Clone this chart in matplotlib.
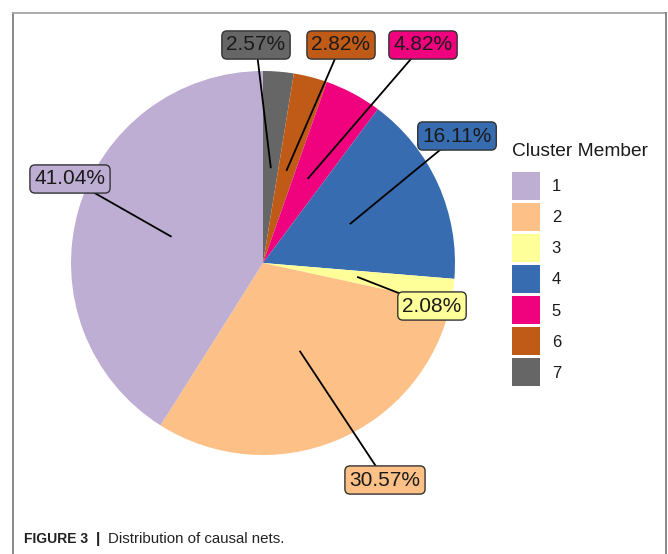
import matplotlib
matplotlib.use("Agg")
import matplotlib.pyplot as plt
import numpy as np
from matplotlib.patches import Patch
from matplotlib.lines import Line2D

plt.rcParams['font.family'] = ['Liberation Sans', 'DejaVu Sans']

# Data
clusters = ["1", "2", "3", "4", "5", "6", "7"]
shares = [41.04, 30.57, 2.08, 16.11, 4.82, 2.82, 2.57]
labels = ["41.04%", "30.57%", "2.08%", "16.11%", "4.82%", "2.82%", "2.57%"]
colors = ["#BEAED4", "#FDC086", "#FFFF99", "#386CB0", "#F0027F", "#BF5B17", "#666666"]

W, H = 668, 554
fig = plt.figure(figsize=(W / 100, H / 100), dpi=100)
ax = fig.add_axes([0, 0, 1, 1])

cx, cy, R = 263, 554 - 263, 192

# pie: clockwise from 12 o'clock, cluster 7 first
order = list(range(len(shares)))[::-1]
vals = [shares[i] for i in order]
cols = [colors[i] for i in order]
ax.pie(vals, colors=cols, startangle=90, counterclock=False,
       center=(cx, cy), radius=R, frame=True,
       wedgeprops=dict(linewidth=0))
ax.set_xlim(0, W)
ax.set_ylim(0, H)
ax.set_aspect('equal')
ax.axis('off')

# label box positions (pixel layout, y from top)
label_pos = {
    0: (70, 179),
    1: (385, 480),
    2: (432, 306),
    3: (457, 136),
    4: (423, 45),
    5: (341, 45),
    6: (256, 45),
}

total = sum(vals)
cum = 0.0
for i in order:
    v = shares[i]
    mid = (cum + v / 2) / total * 2 * np.pi
    cum += v
    ax_x = cx + 0.5 * R * np.sin(mid)
    ax_y = cy + 0.5 * R * np.cos(mid)
    lx, ly = label_pos[i]
    ly = H - ly
    ax.plot([ax_x, lx], [ax_y, ly], color='black', lw=1.3, zorder=3)
    ax.text(lx, ly, labels[i], ha='center', va='center', fontsize=15,
            color='#1a1a1a', zorder=4,
            bbox=dict(boxstyle='round,pad=0.22,rounding_size=0.25',
                      facecolor=colors[i], edgecolor='#333333', linewidth=1.0))

# legend
ax.text(512, H - 152, "Cluster Member", fontsize=13.8, ha='left', va='center',
        color='#1a1a1a')
handles = [Patch(facecolor=c, edgecolor='none') for c in colors]
leg = ax.legend(handles, clusters, loc='upper left',
                bbox_to_anchor=(512 / W, 1 - 172 / H), frameon=False,
                fontsize=12, handlelength=1.68, handleheight=2.2,
                labelspacing=0.19, handletextpad=0.7, borderaxespad=0,
                borderpad=0)
for t in leg.get_texts():
    t.set_color('#1a1a1a')

# frame
fig.add_artist(Line2D([13 / W, 13 / W], [0, 1 - 13 / H], color='#7f7f7f', lw=1.3,
                      transform=fig.transFigure))
fig.add_artist(Line2D([13 / W, 666 / W], [1 - 13 / H, 1 - 13 / H], color='#a6a6a6', lw=1.3,
                      transform=fig.transFigure))
fig.add_artist(Line2D([666 / W, 666 / W], [0, 1 - 13 / H], color='#7f7f7f', lw=1.3,
                      transform=fig.transFigure))

# caption
fig.text(24 / W, 1 - 539 / H, "FIGURE 3", fontsize=10, fontweight='bold',
         ha='left', va='center', color='#222222')
fig.text(98 / W, 1 - 539 / H, "|", fontsize=11, fontweight='bold',
         ha='center', va='center', color='#222222')
fig.text(108 / W, 1 - 539 / H, "Distribution of causal nets.", fontsize=10.8,
         ha='left', va='center', color='#222222')

fig.savefig("out.png", dpi=100)
